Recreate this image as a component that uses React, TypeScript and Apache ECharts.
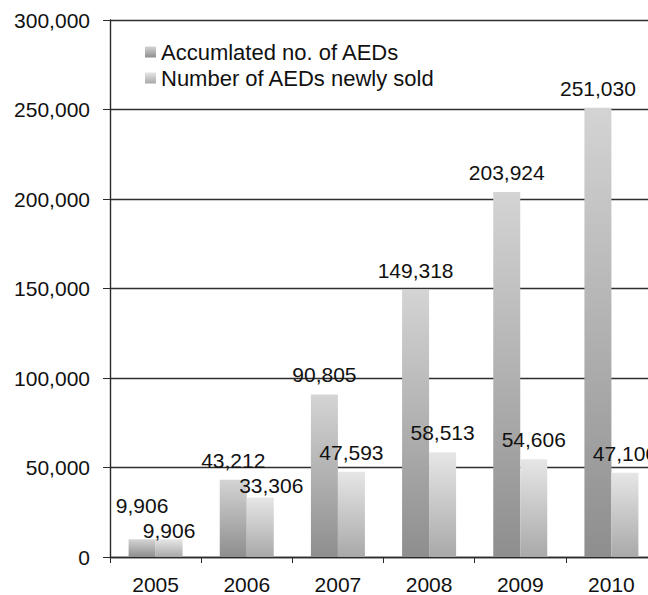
import React, { useEffect, useRef } from "react";
import * as echarts from "echarts";

// Japanese AED deployment, 2005–2010
const years = ["2005", "2006", "2007", "2008", "2009", "2010"];
const accumulated = [9906, 43212, 90805, 149318, 203924, 251030];
const newlySold = [9906, 33306, 47593, 58513, 54606, 47106];
const yTicks = { min: 0, max: 300000, interval: 50000 };

const seriesNames = ["Accumlated no. of AEDs", "Number of AEDs newly sold"];

const FONT = "Liberation Sans, Arial, sans-serif";
const fmt = (v: number) => v.toLocaleString("en-US");

const accFill = new echarts.graphic.LinearGradient(0, 0, 0, 1, [
  { offset: 0, color: "#d4d4d4" },
  { offset: 1, color: "#8e8e8e" },
]);
const newFill = new echarts.graphic.LinearGradient(0, 0, 0, 1, [
  { offset: 0, color: "#e6e6e6" },
  { offset: 1, color: "#a9a9a9" },
]);

// a few value labels sit nudged away from the default spot
const accOffsets: Record<number, [number, number]> = { 0: [0, -14] };
const newOffsets: Record<number, [number, number]> = { 0: [0, 11], 1: [11, 8] };

function withOffsets(values: number[], offsets: Record<number, [number, number]>) {
  return values.map((v, i) =>
    offsets[i] ? { value: v, label: { offset: offsets[i] } } : { value: v }
  );
}

export default function App() {
  const ref = useRef<HTMLDivElement>(null);

  useEffect(() => {
    if (!ref.current) return;
    const chart = echarts.init(ref.current, null, { renderer: "svg" });
    const labelStyle = {
      show: true,
      position: "top" as const,
      distance: 9,
      fontFamily: FONT,
      fontSize: 21,
      color: "#111",
      formatter: (p: any) => fmt(p.value),
    };
    chart.setOption({
      animation: false,
      backgroundColor: "#ffffff",
      textStyle: { fontFamily: FONT },
      grid: { left: 110, top: 20, right: 4, bottom: 38, containLabel: false },
      legend: {
        orient: "vertical",
        left: 145,
        top: 41,
        padding: 0,
        itemWidth: 11,
        itemHeight: 11,
        itemGap: 4,
        icon: "rect",
        textStyle: { fontFamily: FONT, fontSize: 22, color: "#111", lineHeight: 22 },
        data: seriesNames,
      },
      xAxis: {
        type: "category",
        data: years,
        axisLine: { lineStyle: { color: "#2a2a2a", width: 1.4 } },
        axisTick: { show: true, length: 6, lineStyle: { color: "#2a2a2a" } },
        axisLabel: { fontFamily: FONT, fontSize: 21, color: "#111", margin: 17 },
      },
      yAxis: {
        type: "value",
        min: yTicks.min,
        max: yTicks.max,
        interval: yTicks.interval,
        axisLine: { show: true, lineStyle: { color: "#2a2a2a", width: 1.4 } },
        axisTick: { show: true, length: 7, lineStyle: { color: "#2a2a2a" } },
        splitLine: { show: true, lineStyle: { color: "#2f2f2f", width: 1.4 } },
        axisLabel: {
          fontFamily: FONT,
          fontSize: 21,
          color: "#111",
          margin: 20,
          formatter: (v: number) => fmt(v),
        },
      },
      series: [
        {
          name: seriesNames[0],
          type: "bar",
          barWidth: 27,
          barGap: "0%",
          data: withOffsets(accumulated, accOffsets),
          itemStyle: { color: accFill },
          label: labelStyle,
          z: 3,
        },
        {
          name: seriesNames[1],
          type: "bar",
          barWidth: 27,
          barGap: "0%",
          data: withOffsets(newlySold, newOffsets),
          itemStyle: { color: newFill },
          label: labelStyle,
          z: 3,
        },
      ],
    });
    return () => chart.dispose();
  }, []);

  // the chart is drawn slightly wider than the visible frame, so its right edge is cut off
  return (
    <div
      style={{
        position: "fixed",
        left: 0,
        top: 0,
        width: 648,
        height: 595,
        overflow: "hidden",
        background: "#fff",
      }}
    >
      <div ref={ref} style={{ width: 661, height: 595 }} />
    </div>
  );
}
